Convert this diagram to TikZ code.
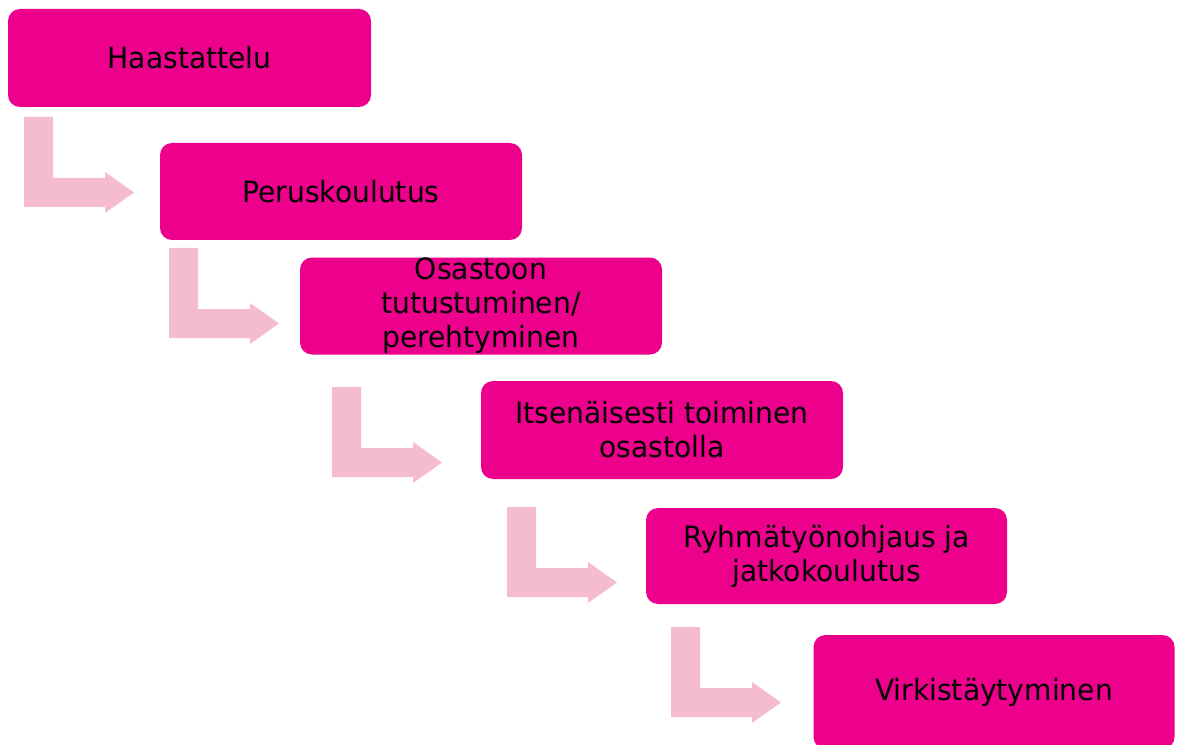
\documentclass[tikz,border=0pt]{standalone}
\usepackage{fontspec}
\setmainfont{DejaVu Sans}[FakeStretch=0.96]
\definecolor{boxmag}{RGB}{236,0,140}
\definecolor{arrowpink}{RGB}{245,188,208}
\begin{document}
\begin{tikzpicture}[x=0.75pt,y=-0.75pt,
  stepbox/.style={fill=boxmag,draw=none,rounded corners=9pt,align=center,
    text=black,font=\fontsize{22pt}{25.5pt}\selectfont,inner sep=0pt},
  bent/.pic={\fill[arrowpink] (0,0) -- (29,0) -- (29,61) -- (81,61) -- (81,55)
     -- (110,75.5) -- (81,96) -- (81,90) -- (0,90) -- cycle;}]
\useasboundingbox (0,0) rectangle (1184,745);
\node[stepbox,minimum width=363*0.75pt,minimum height=98*0.75pt] (b1) at (189.5,58) {Haastattelu};
\node[stepbox,minimum width=362*0.75pt,minimum height=97*0.75pt] (b2) at (341,191.5) {Peruskoulutus};
\node[stepbox,minimum width=362*0.75pt,minimum height=97*0.75pt] (b3) at (481,306) {Osastoon\\tutustuminen/\\perehtyminen};
\node[stepbox,minimum width=362*0.75pt,minimum height=98*0.75pt] (b4) at (662,430) {Itsenäisesti toiminen\\osastolla};
\node[stepbox,minimum width=361*0.75pt,minimum height=96*0.75pt] (b5) at (826.5,556) {Ryhmätyönohjaus ja\\jatkokoulutus};
\node[stepbox,minimum width=361*0.75pt,minimum height=114*0.75pt] (b6) at (994,692) {Virkistäytyminen};
\pic at (24,117) {bent};
\pic at (169,248) {bent};
\pic at (332,387) {bent};
\pic at (507,507) {bent};
\pic at (671,627) {bent};
\end{tikzpicture}
\end{document}
